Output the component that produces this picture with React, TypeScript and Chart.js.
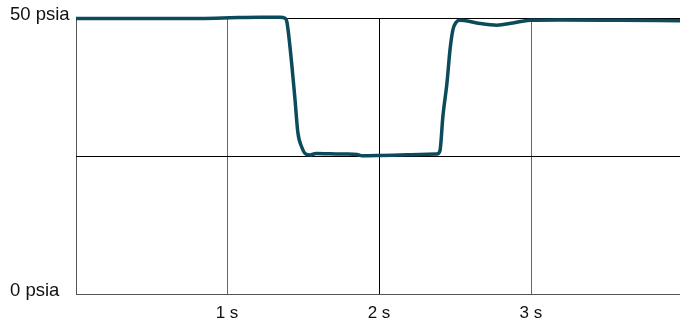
import React, { useEffect, useRef } from "react";
import { Chart, registerables } from "chart.js";

Chart.register(...registerables);

// time in seconds
const times = [
  0, 0.487, 0.816, 1.013, 1.21, 1.342, 1.375, 1.388, 1.421, 1.441, 1.46, 1.487, 1.507,
  1.539, 1.579, 1.671, 1.77, 1.849, 1.882, 2.0, 2.132, 2.263, 2.375, 2.395, 2.414,
  2.441, 2.461, 2.48, 2.5, 2.526, 2.553, 2.658, 2.77, 2.875, 2.987, 3.184, 3.579, 3.974,
];
// pressure in psia
const pressures = [
  49.9, 49.9, 49.92, 50.05, 50.15, 50.12, 49.95, 49.2, 41.2, 35.2, 29.2, 26.5, 25.45,
  25.18, 25.45, 25.4, 25.36, 25.27, 25.04, 25.09, 25.18, 25.27, 25.36, 26.0, 32.2,
  38.3, 44.3, 47.9, 49.2, 49.6, 49.55, 49.0, 48.7, 49.1, 49.6, 49.64, 49.58, 49.5,
];
const xTicks = [0, 1, 2, 3];
const xTickLabels = ["", "1 s", "2 s", "3 s"];
const yTicks = [0, 25, 50];
const yTickLabels = ["0 psia", "", "50 psia"];

export default function App() {
  const ref = useRef<HTMLCanvasElement | null>(null);

  useEffect(() => {
    document.body.style.margin = "0";
    if (!ref.current) return;
    const points = times.map((t, i) => ({ x: t, y: pressures[i] }));
    const chart = new Chart(ref.current, {
      type: "line",
      data: {
        datasets: [
          {
            data: points,
            borderColor: "#0b4b5b",
            borderWidth: 3.5,
            pointRadius: 0,
            fill: false,
            cubicInterpolationMode: "monotone",
            clip: false as any,
          },
        ],
      },
      options: {
        animation: false,
        responsive: false,
        events: [],
        layout: { padding: { left: 10, top: 18, right: 0, bottom: 0 } },
        plugins: { legend: { display: false }, tooltip: { enabled: false } },
        scales: {
          x: {
            type: "linear",
            min: 0,
            max: 3.974,
            border: { display: false },
            grid: {
              drawTicks: false,
              lineWidth: 1,
              color: (ctx: any) => {
                const v = ctx.tick ? ctx.tick.value : 0;
                if (v === 0) return "#555";
                if (v === 2) return "#000";
                return "#666";
              },
            },
            afterBuildTicks: (scale: any) => {
              scale.ticks = xTicks.map((v) => ({ value: v }));
            },
            afterFit: (scale: any) => {
              scale.height = 29;
            },
            ticks: {
              padding: 9,
              labelOffset: -1,
              color: "#111",
              font: { family: "'Liberation Sans', Arial, sans-serif", size: 17 },
              maxRotation: 0,
              callback: (val: any) => {
                const i = xTicks.indexOf(Number(val));
                return i >= 0 ? xTickLabels[i] : "";
              },
            },
          },
          y: {
            type: "linear",
            min: 0,
            max: 50,
            border: { display: false },
            grid: {
              drawTicks: false,
              lineWidth: 1,
              color: (ctx: any) => {
                const v = ctx.tick ? ctx.tick.value : 0;
                if (v === 0) return "#555";
                return "#000";
              },
            },
            afterBuildTicks: (scale: any) => {
              scale.ticks = yTicks.map((v) => ({ value: v }));
            },
            afterFit: (scale: any) => {
              scale.width = 66;
            },
            ticks: {
              crossAlign: "far",
              padding: 0,
              labelOffset: -3.5,
              color: "#111",
              font: { family: "'Liberation Sans', Arial, sans-serif", size: 18.5 },
              callback: (val: any) => {
                const i = yTicks.indexOf(Number(val));
                return i >= 0 ? yTickLabels[i] : "";
              },
            },
          },
        },
      },
    });
    return () => chart.destroy();
  }, []);

  return (
    <div style={{ width: 680, height: 323 }}>
      <canvas ref={ref} width={680} height={323} />
    </div>
  );
}
